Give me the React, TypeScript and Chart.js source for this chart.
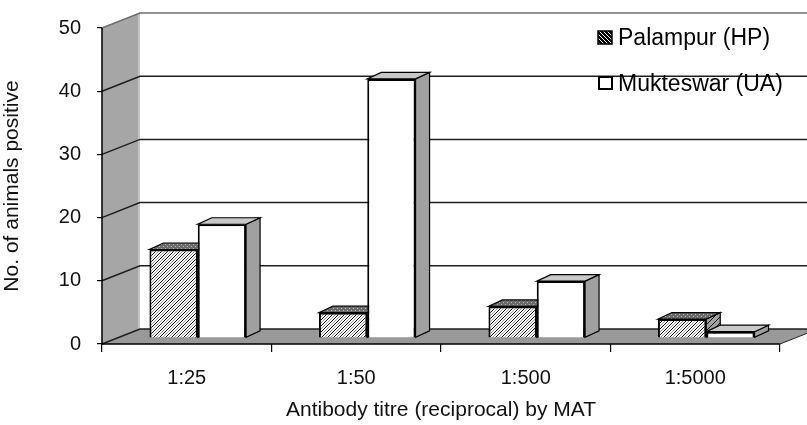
import React, { useEffect, useRef } from 'react';
import { Chart, registerables } from 'chart.js';

Chart.register(...registerables);

const categories = ['1:25', '1:50', '1:500', '1:5000'];
const palampur = [14, 4, 5, 3];
const mukteswar = [18, 41, 9, 1];
const yTicks = [0, 10, 20, 30, 40, 50];
const seriesNames = ['Palampur (HP)', 'Mukteswar (UA)'];
const xTitle = 'Antibody titre (reciprocal) by MAT';
const yTitle = 'No. of animals positive';

const W = 807;
const H = 425;
const WALL_DX = 38;
const WALL_DY = -15;
const BAR_OFF_X = 11;
const BAR_OFF_Y = -6;
const BAR_DX = 14;
const BAR_DY = -6.5;
const FONT = '"Liberation Sans", Arial, sans-serif';

type Pt = [number, number];

function poly(ctx: CanvasRenderingContext2D, pts: Pt[], fill: any, stroke?: string, lw = 1) {
  ctx.beginPath();
  ctx.moveTo(pts[0][0], pts[0][1]);
  for (let i = 1; i < pts.length; i++) ctx.lineTo(pts[i][0], pts[i][1]);
  ctx.closePath();
  if (fill) {
    ctx.fillStyle = fill;
    ctx.fill();
  }
  if (stroke) {
    ctx.strokeStyle = stroke;
    ctx.lineWidth = lw;
    ctx.stroke();
  }
}

function makeTile(size: number, draw: (g: CanvasRenderingContext2D) => void) {
  const c = document.createElement('canvas');
  c.width = size;
  c.height = size;
  const g = c.getContext('2d')!;
  draw(g);
  return c;
}

export default function App() {
  const ref = useRef<HTMLCanvasElement | null>(null);

  useEffect(() => {
    document.body.style.margin = '0';
    const canvas = ref.current!;
    const ctx0 = canvas.getContext('2d')!;

    const hatchTile = makeTile(6, (g) => {
      g.fillStyle = '#ffffff';
      g.fillRect(0, 0, 6, 6);
      for (let i = 0; i < 6; i++) {
        g.fillStyle = '#000000';
        g.fillRect(i, (5 - i + 6) % 6, 1, 1);
        g.fillStyle = '#9a9a9a';
        g.fillRect(i, (5 - i + 3) % 6, 1, 1);
      }
    });
    const hatch = ctx0.createPattern(hatchTile, 'repeat');

    const topTile = makeTile(4, (g) => {
      g.fillStyle = '#6a6a6a';
      g.fillRect(0, 0, 4, 4);
      g.fillStyle = '#b8b8b8';
      g.fillRect(0, 0, 1, 1);
      g.fillRect(2, 2, 1, 1);
    });
    const topPat = ctx0.createPattern(topTile, 'repeat');

    const sideTile = makeTile(6, (g) => {
      g.fillStyle = '#a0a0a0';
      g.fillRect(0, 0, 6, 6);
      for (let i = 0; i < 6; i++) {
        g.fillStyle = '#111111';
        g.fillRect(i, (5 - i + 6) % 6, 1, 1);
      }
    });
    const sidePat = ctx0.createPattern(sideTile, 'repeat');

    const legendTile = makeTile(4, (g) => {
      g.fillStyle = '#000000';
      g.fillRect(0, 0, 4, 4);
      g.fillStyle = '#ffffff';
      for (let i = 0; i < 4; i++) g.fillRect(i, i, 1, 1);
    });
    const legendPat = ctx0.createPattern(legendTile, 'repeat');

    const plugin = {
      id: 'excel3d',
      beforeDraw(chart: any) {
        const { ctx, chartArea: a, scales } = chart;
        const y = scales.y;
        const y0 = y.getPixelForValue(0);
        const yTop = y.getPixelForValue(50);
        ctx.save();
        poly(ctx, [[a.left, yTop], [a.left + WALL_DX, yTop + WALL_DY], [a.left + WALL_DX, y0 + WALL_DY], [a.left, y0]], '#a6a6a6');
        poly(ctx, [[a.left, y0], [a.right, y0], [a.right + WALL_DX, y0 + WALL_DY], [a.left + WALL_DX, y0 + WALL_DY]], '#999999');
        ctx.strokeStyle = '#c4c4c4';
        ctx.lineWidth = 2;
        ctx.beginPath();
        ctx.moveTo(a.left + WALL_DX - 1, yTop + WALL_DY);
        ctx.lineTo(a.left + WALL_DX - 1, y0 + WALL_DY);
        ctx.stroke();
        for (const v of yTicks) {
          const yf = y.getPixelForValue(v);
          ctx.strokeStyle = v === 50 ? '#6e6e6e' : '#1e1e1e';
          ctx.lineWidth = 1.5;
          ctx.beginPath();
          ctx.moveTo(a.left, yf);
          ctx.lineTo(a.left + WALL_DX, yf + WALL_DY);
          ctx.lineTo(W + 40, yf + WALL_DY);
          ctx.stroke();
        }
        ctx.strokeStyle = '#222';
        ctx.lineWidth = 1;
        ctx.beginPath();
        ctx.moveTo(a.right, y0);
        ctx.lineTo(a.right + WALL_DX, y0 + WALL_DY);
        ctx.stroke();
        ctx.restore();
      },
      afterDraw(chart: any) {
        const { ctx, chartArea: a, scales } = chart;
        const y = scales.y;
        const y0 = y.getPixelForValue(0);
        const yTop = y.getPixelForValue(50);
        ctx.save();
        ctx.strokeStyle = '#000';
        ctx.lineWidth = 1.5;
        ctx.beginPath();
        ctx.moveTo(a.left, yTop);
        ctx.lineTo(a.left, y0);
        ctx.lineTo(a.right, y0);
        ctx.stroke();
        ctx.font = '23px ' + FONT;
        ctx.textBaseline = 'alphabetic';
        ctx.textAlign = 'left';
        ctx.fillStyle = legendPat;
        ctx.fillRect(598, 31, 14, 13);
        ctx.strokeStyle = '#000';
        ctx.lineWidth = 1.5;
        ctx.strokeRect(598, 31, 14, 13);
        ctx.fillStyle = '#000';
        ctx.fillText(seriesNames[0], 618, 45);
        ctx.fillStyle = '#fff';
        ctx.fillRect(599, 77, 13, 12);
        ctx.lineWidth = 2;
        ctx.strokeRect(599, 77, 13, 12);
        ctx.fillStyle = '#000';
        ctx.fillText(seriesNames[1], 618, 91);
        ctx.restore();
      },
      beforeDatasetsDraw(chart: any) {
        const { ctx } = chart;
        ctx.save();
        ctx.translate(BAR_OFF_X, BAR_OFF_Y);
        for (let i = 0; i < categories.length; i++) {
          for (let d = 0; d < 2; d++) {
            const el = chart.getDatasetMeta(d).data[i];
            const half = el.width / 2;
            const l = el.x - half;
            const r = el.x + half;
            const t = el.y;
            const b = el.base;
            const topFill = d === 0 ? topPat : '#c8c8c8';
            const sideFill = d === 0 ? sidePat : '#a0a0a0';
            poly(ctx, [[r, t], [r + BAR_DX, t + BAR_DY], [r + BAR_DX, b + BAR_DY], [r, b]], sideFill, '#000', 1.2);
            poly(ctx, [[l, t], [r, t], [r + BAR_DX, t + BAR_DY], [l + BAR_DX, t + BAR_DY]], topFill, '#000', 1.2);
          }
        }
        ctx.restore();
        ctx.save();
        ctx.translate(BAR_OFF_X, BAR_OFF_Y);
      },
      afterDatasetsDraw(chart: any) {
        chart.ctx.restore();
      },
    };

    const chart = new Chart(canvas, {
      type: 'bar',
      data: {
        labels: categories,
        datasets: [
          {
            label: seriesNames[0],
            data: palampur,
            backgroundColor: hatch as any,
            borderColor: '#000',
            borderWidth: 2,
            borderSkipped: 'start',
            barPercentage: 1,
            categoryPercentage: 0.57,
          },
          {
            label: seriesNames[1],
            data: mukteswar,
            backgroundColor: '#ffffff',
            borderColor: '#000',
            borderWidth: 2,
            borderSkipped: 'start',
            barPercentage: 1,
            categoryPercentage: 0.57,
          },
        ],
      },
      options: {
        responsive: false,
        animation: false,
        devicePixelRatio: 1,
        layout: { padding: { top: 25, right: 27, left: 0, bottom: 0 } },
        plugins: {
          legend: { display: false },
          tooltip: { enabled: false },
        },
        scales: {
          x: {
            grid: {
              display: true,
              drawOnChartArea: false,
              drawTicks: true,
              tickLength: 8,
              offset: true,
              color: '#000',
              lineWidth: 1.2,
            },
            border: { display: false },
            ticks: {
              color: '#111',
              font: { family: FONT, size: 20 },
              padding: 14,
              maxRotation: 0,
            },
            title: {
              display: true,
              text: xTitle,
              color: '#111',
              font: { family: FONT, size: 21 },
              padding: { top: 0, bottom: 2 },
            },
            afterFit: (s: any) => {
              s.height = 81;
            },
          },
          y: {
            min: 0,
            max: 50,
            ticks: {
              stepSize: 10,
              color: '#111',
              font: { family: FONT, size: 20 },
              padding: 16,
            },
            grid: {
              display: true,
              drawOnChartArea: false,
              drawTicks: true,
              tickLength: 5,
              color: '#000',
              lineWidth: 1.2,
            },
            border: { display: false },
            title: {
              display: true,
              text: yTitle,
              color: '#111',
              font: { family: FONT, size: 21 },
              padding: { top: 0, bottom: 0 },
            },
            afterFit: (s: any) => {
              s.width = 102;
            },
          },
        },
      },
      plugins: [plugin],
    });

    return () => chart.destroy();
  }, []);

  return (
    <div style={{ width: W, height: H }}>
      <canvas ref={ref} width={W} height={H} style={{ display: 'block' }} />
    </div>
  );
}
